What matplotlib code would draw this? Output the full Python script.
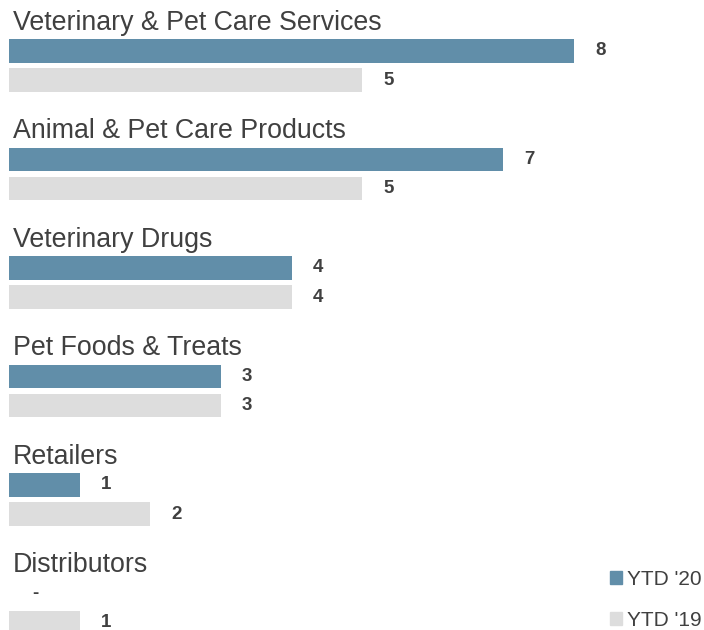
import matplotlib.pyplot as plt
from matplotlib.patches import Patch

categories = ["Veterinary & Pet Care Services", "Animal & Pet Care Products",
              "Veterinary Drugs", "Pet Foods & Treats", "Retailers", "Distributors"]
ytd_20 = [8, 7, 4, 3, 1, 0]
ytd_19 = [5, 5, 4, 3, 2, 1]
series_names = ["YTD '20", "YTD '19"]

BLUE = "#618ea9"
GRAY = "#dddddd"
TEXT = "#404040"

fig = plt.figure(figsize=(7.04, 6.3), dpi=100)
ax = fig.add_axes([0, 0, 1, 1])
ax.set_xlim(-0.127, 9.84)
ax.set_ylim(5.613, -0.194)
ax.axis("off")

for i, cat in enumerate(categories):
    ax.text(0.06, i + 0.015, cat, fontsize=19.3, color=TEXT, va="center", ha="left",
            family=["Liberation Sans", "DejaVu Sans"])
    for off, vals, col in [(0.276, ytd_20, BLUE), (0.544, ytd_19, GRAY)]:
        v = vals[i]
        ax.barh(i + off, v, height=0.215, color=col, left=0)
        lab = str(v) if v else "-"
        ax.text(v + 0.37, i + off, lab, fontsize=13.5, fontweight="bold",
                color=TEXT, va="center", ha="center",
                family=["Liberation Sans", "DejaVu Sans"])

handles = [Patch(color=BLUE), Patch(color=GRAY)]
leg = ax.legend(handles, series_names, loc="lower right",
                bbox_to_anchor=(1.0, -0.003), frameon=False,
                handlelength=0.6, handleheight=0.6, handletextpad=0.25,
                labelspacing=1.05, borderaxespad=0.0, borderpad=0.1,
                prop={"family": "Liberation Sans", "size": 15})
for t in leg.get_texts():
    t.set_color(TEXT)

fig.savefig("out.png", dpi=100)
